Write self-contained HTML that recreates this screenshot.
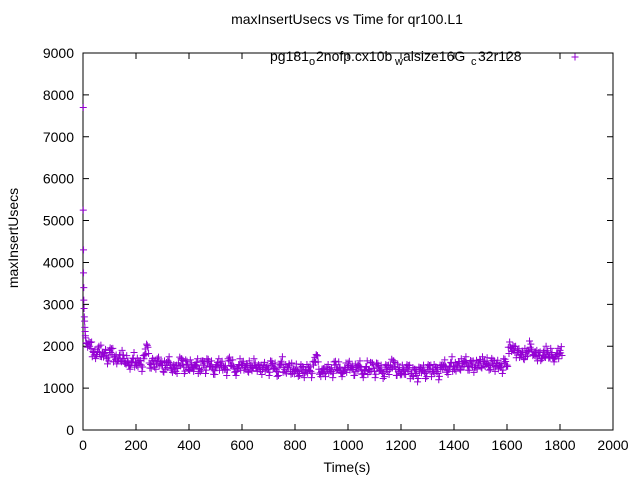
<!DOCTYPE html>
<html><head><meta charset="utf-8"><style>
body{margin:0;background:#fff}
svg text{font-family:"Liberation Sans",sans-serif;font-size:14px;fill:#000}
</style></head><body>
<svg width="640" height="480">
<g id="plot"></g>
</svg>
<script>
const earlyTimes=[1,1,2,2,3,3,4,5,6,7,8,9];
const earlyVals=[7700,5250,4300,3750,3400,3100,2900,2700,2600,2450,2350,2250];
const times=[];for(let t=10;t<=1800;t+=10)times.push(t);
const vals=[
2200,2050,1950,1850,1800,2000,1750,1850,1700,1900,
1800,1750,1650,1800,1700,1600,1650,1550,1700,1600,
1650,1550,1700,2050,1600,1650,1500,1700,1600,1550,
1450,1650,1550,1500,1400,1600,1700,1500,1550,1450,
1600,1500,1550,1450,1650,1500,1600,1550,1450,1500,
1550,1600,1500,1450,1650,1550,1500,1400,1550,1600,
1500,1550,1450,1500,1600,1500,1400,1550,1500,1450,
1550,1500,1400,1500,1600,1450,1500,1550,1350,1450,
1400,1500,1350,1450,1500,1400,1550,1800,1450,1400,
1350,1500,1450,1400,1550,1450,1500,1350,1450,1600,
1500,1450,1400,1550,1450,1350,1500,1450,1600,1400,
1500,1450,1350,1500,1400,1550,1650,1450,1400,1350,
1450,1500,1400,1350,1450,1300,1400,1450,1350,1500,
1400,1450,1500,1350,1450,1550,1500,1450,1600,1500,
1550,1600,1500,1650,1550,1600,1500,1550,1600,1650,
1550,1600,1550,1650,1500,1600,1550,1500,1600,1550,
2100,1950,1850,1900,1800,1850,1750,1900,2050,1800,
1750,1850,1700,1900,1800,1750,1850,1700,1800,1900];
const xTicks=[0,200,400,600,800,1000,1200,1400,1600,1800,2000];
const yTicks=[0,1000,2000,3000,4000,5000,6000,7000,8000,9000];
const L=83,R=613,T=53,B=430;
const xs=v=>L+(v/2000)*(R-L);
const ys=v=>B-(v/9000)*(B-T);
const ns="http://www.w3.org/2000/svg";
const g=document.getElementById('plot');
function mk(tag,a){const e=document.createElementNS(ns,tag);for(const k in a)e.setAttribute(k,a[k]);g.appendChild(e);return e;}
const frame=mk('rect',{x:L,y:T,width:R-L,height:B-T,fill:'none',stroke:'#000','stroke-width':1});


xTicks.forEach(v=>{const x=xs(v);
 const l=mk('path',{d:`M${x},${B}v-6M${x},${T}v6`,stroke:'#000'});
 
 
 const t=mk('text',{x:x,y:B+20,'text-anchor':'middle'});t.textContent=v;
 
 });
yTicks.forEach(v=>{const y=ys(v);
 const l=mk('path',{d:`M${L},${y}h6M${R},${y}h-6`,stroke:'#000'});
 
 
 const t=mk('text',{x:L-9,y:y+5,'text-anchor':'end'});t.textContent=v;
 
 });
function plus(x,y){const p=mk('path',{d:`M${x-3.5},${y}h7M${x},${y-3.5}v7`,stroke:'#9400d3','stroke-width':1});
 
 }
const jit=[-120,60,150,-60,0,-150,90,-30];
earlyTimes.forEach((t,i)=>plus(xs(t),ys(earlyVals[i])));
times.forEach((t,i)=>{
 const n=vals[i+1]!==undefined?vals[i+1]:vals[i];
 plus(xs(t),ys(vals[i]));
 plus(xs(t+2.5),ys(vals[i]+jit[i%8]));
 plus(xs(t+5),ys((vals[i]+n)/2+jit[(i+3)%8]));
 plus(xs(t+7.5),ys((vals[i]+n)/2+jit[(i+5)%8]));});
const tt=mk('text',{x:347,y:24,'text-anchor':'middle'});tt.textContent='maxInsertUsecs vs Time for qr100.L1';


const xt=mk('text',{x:347,y:472,'text-anchor':'middle'});xt.textContent='Time(s)';


const yt=mk('text',{x:18,y:238,'text-anchor':'middle',transform:'rotate(-90 18 238)'});yt.textContent='maxInsertUsecs';


const legendParts=[['pg181',0,270],['o',1,309],['2nofp.cx10b',0,316],['w',1,395],['alsize16G',0,403],['c',1,471],['32r128',0,478]];
legendParts.forEach(([s,sub,x])=>{
 const t=mk('text',{x:x,y:sub?65:61});t.textContent=s;
 if(sub)t.style.fontSize='11px';
 
 });
plus(575,57);
</script>
</body></html>
